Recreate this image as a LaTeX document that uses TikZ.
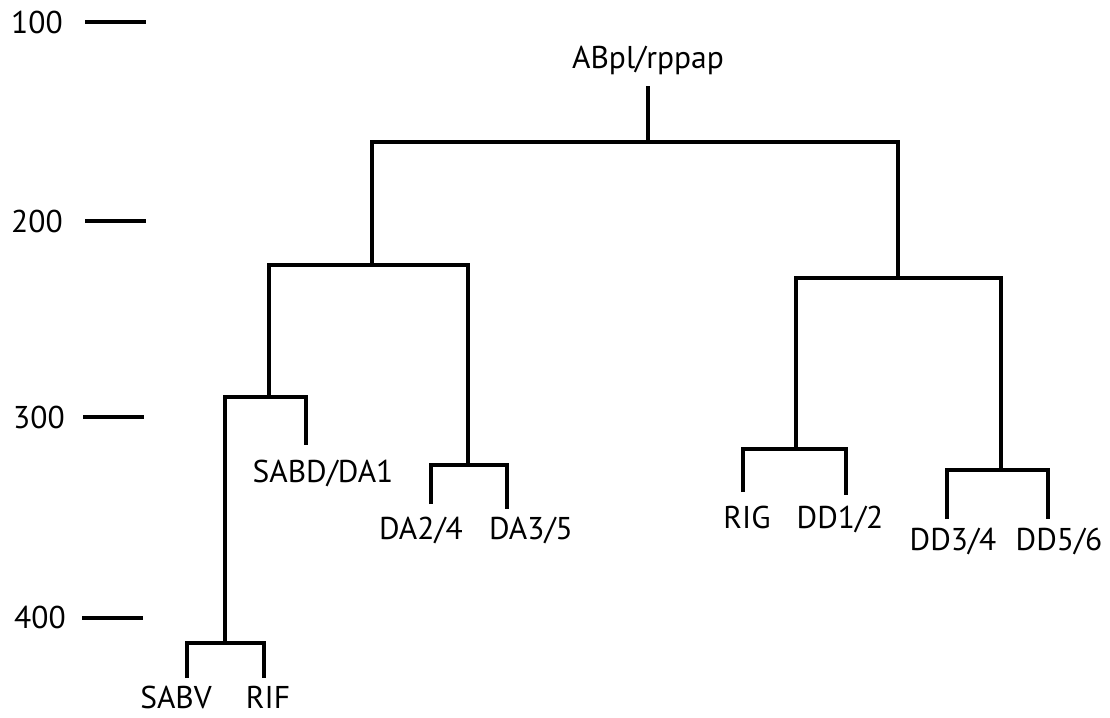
\documentclass[tikz,border=0pt]{standalone}
\usepackage{fontspec}
\setmainfont{PT Sans}
\begin{document}
\begin{tikzpicture}[x=1pt,y=-1pt,
  branch/.style={line width=3.2pt,line cap=butt,line join=miter},
  tick/.style={line width=3.2pt},
  lab/.style={anchor=base,inner sep=0pt,font=\fontsize{31.5}{33}\selectfont},
  axlab/.style={anchor=base,inner sep=0pt,font=\fontsize{31.5}{33}\selectfont}]
\useasboundingbox (0,0) rectangle (1110,717);
% axis
\node[axlab] (a100) at (37,34) {100};
\node[axlab] (a200) at (37,232) {200};
\node[axlab] (a300) at (39,428) {300};
\node[axlab] (a400) at (40,628) {400};
\coordinate (t1a) at (85,22);  \coordinate (t1b) at (146,22);
\coordinate (t2a) at (85,221); \coordinate (t2b) at (146,221);
\coordinate (t3a) at (83,417); \coordinate (t3b) at (144,417);
\coordinate (t4a) at (82,618); \coordinate (t4b) at (143,618);
\draw[tick] (t1a) -- (t1b);
\draw[tick] (t2a) -- (t2b);
\draw[tick] (t3a) -- (t3b);
\draw[tick] (t4a) -- (t4b);
% labels
\node[lab] (root) at (648,69) {ABpl/rppap};
\node[lab] (sabd) at (323,482) {SABD/DA1};
\node[lab] (sabv) at (176,708) {SABV};
\node[lab] (rif) at (268,708) {RIF};
\node[lab] (da24) at (421,539) {DA2/4};
\node[lab] (da35) at (531,539) {DA3/5};
\node[lab] (rig) at (747,528) {RIG};
\node[lab] (dd12) at (840,528) {DD1/2};
\node[lab] (dd34) at (953,550) {DD3/4};
\node[lab] (dd56) at (1059,550) {DD5/6};
% junctions
\coordinate (n0t) at (648,86);
\coordinate (n0) at (648,142);
\coordinate (n1) at (372,265);
\coordinate (n2) at (898,278);
\coordinate (n3) at (269,397);
\coordinate (n4) at (468,465);
\coordinate (n5) at (225,643);
\coordinate (n6) at (796,449);
\coordinate (n7) at (1001,470);
% leaf ends
\coordinate (lsabd) at (306,445);
\coordinate (lsabv) at (187,678);
\coordinate (lrif) at (264,678);
\coordinate (lda24) at (431,504);
\coordinate (lda35) at (507,509);
\coordinate (lrig) at (743,492);
\coordinate (ldd12) at (846,495);
\coordinate (ldd34) at (947,519);
\coordinate (ldd56) at (1048,519);
% branches
\draw[branch] (n0t) -- (n0);
\draw[branch] (n1) |- (n0) -| (n2);
\draw[branch] (n3) |- (n1) -| (n4);
\draw[branch] (n5) |- (n3) -| (lsabd);
\draw[branch] (lsabv) |- (n5) -| (lrif);
\draw[branch] (lda24) |- (n4) -| (lda35);
\draw[branch] (n6) |- (n2) -| (n7);
\draw[branch] (lrig) |- (n6) -| (ldd12);
\draw[branch] (ldd34) |- (n7) -| (ldd56);
\end{tikzpicture}
\end{document}
